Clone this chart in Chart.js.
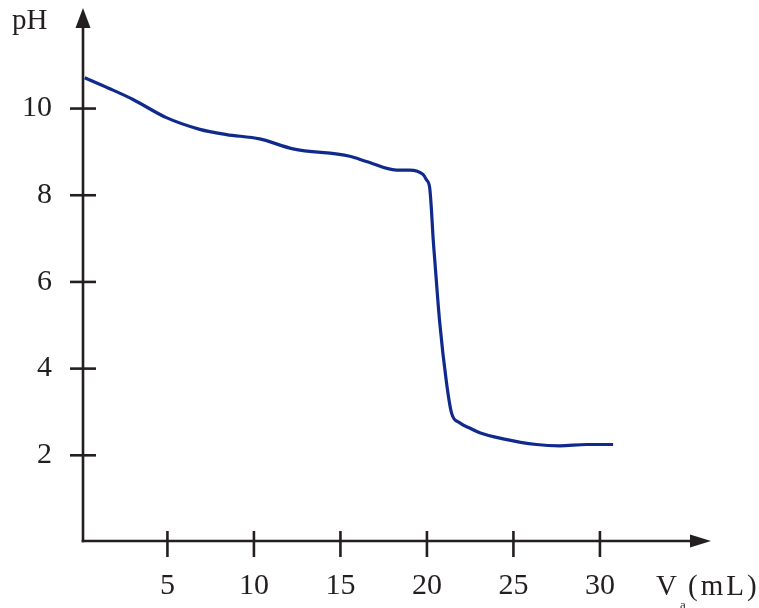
<!DOCTYPE html>
<html>
<head>
<meta charset="utf-8">
<script src="https://cdn.jsdelivr.net/npm/chart.js@4/dist/chart.umd.min.js"></script>
<style>
  html, body { margin: 0; padding: 0; background: #ffffff; }
  #wrap { width: 759px; height: 608px; }
</style>
</head>
<body>
<div id="wrap"><canvas id="c" width="759" height="608"></canvas></div>
<script>
// Titration curve: pH against added acid volume V_a (mL)
const volumeML = [0.22, 1.60, 3.01, 4.94, 6.87, 8.41, 10.33, 12.26, 15.54, 16.50, 18.24, 19.00, 19.77, 19.97, 20.16, 20.26, 20.35, 20.45, 20.74, 21.13, 21.42, 21.89, 22.47, 23.05, 24.40, 26.33, 27.68, 29.22, 30.76];
const pHValues = [10.71, 10.47, 10.21, 9.79, 9.52, 9.40, 9.30, 9.07, 8.90, 8.78, 8.58, 8.58, 8.48, 8.36, 8.17, 7.67, 7.05, 6.52, 5.06, 3.68, 2.98, 2.75, 2.63, 2.52, 2.38, 2.25, 2.22, 2.25, 2.25];
const xTickValues = [5, 10, 15, 20, 25, 30];
const yTickValues = [2, 4, 6, 8, 10];
const yAxisTitle = 'pH';
const xAxisTitle = 'V';
const xAxisSubscript = 'a';
const xAxisUnit = '(mL)';

const INK = '#231f20';
const CURVE = '#0f2a8c';
const SERIF = "'Liberation Serif', 'Times New Roman', serif";

const points = volumeML.map((v, i) => ({ x: v, y: pHValues[i] }));

// Axes with arrow heads, crossing tick marks and the axis titles
const arrowAxes = {
  id: 'arrowAxes',
  beforeDatasetsDraw(chart) {
    const { ctx, chartArea, scales } = chart;
    const xs = scales.x, ys = scales.y;
    const ox = chartArea.left;
    const oy = ys.getPixelForValue(0) - 1;
    ctx.save();
    ctx.strokeStyle = INK;
    ctx.fillStyle = INK;
    ctx.lineWidth = 2.6;
    ctx.lineCap = 'butt';

    // vertical axis
    ctx.beginPath();
    ctx.moveTo(ox, oy + 1.3);
    ctx.lineTo(ox, chartArea.top + 16);
    ctx.stroke();
    ctx.beginPath();
    ctx.moveTo(ox, chartArea.top);
    ctx.lineTo(ox - 7.5, chartArea.top + 20);
    ctx.lineTo(ox + 7.5, chartArea.top + 20);
    ctx.closePath();
    ctx.fill();

    // horizontal axis
    ctx.beginPath();
    ctx.moveTo(ox - 1.3, oy);
    ctx.lineTo(chartArea.right - 16, oy);
    ctx.stroke();
    ctx.beginPath();
    ctx.moveTo(chartArea.right, oy);
    ctx.lineTo(chartArea.right - 21, oy - 6.5);
    ctx.lineTo(chartArea.right - 21, oy + 6.5);
    ctx.closePath();
    ctx.fill();

    // tick marks
    yTickValues.forEach(v => {
      const py = ys.getPixelForValue(v);
      ctx.beginPath();
      ctx.moveTo(ox - 13, py);
      ctx.lineTo(ox + 13, py);
      ctx.stroke();
    });
    xTickValues.forEach(v => {
      const px = xs.getPixelForValue(v);
      ctx.beginPath();
      ctx.moveTo(px, oy - 10);
      ctx.lineTo(px, oy + 16);
      ctx.stroke();
    });

    // axis titles
    ctx.textBaseline = 'alphabetic';
    ctx.textAlign = 'left';
    ctx.font = '29px ' + SERIF;
    ctx.fillText(yAxisTitle, 12, 29);

    ctx.font = '29px ' + SERIF;
    ctx.fillText(xAxisTitle, 656, 595);
    ctx.font = '13px ' + SERIF;
    ctx.fillText(xAxisSubscript, 680, 609);
    ctx.font = '29px ' + SERIF;
    ctx.letterSpacing = '3px';
    ctx.fillText(xAxisUnit, 688, 595);
    ctx.restore();
  }
};

new Chart(document.getElementById('c'), {
  type: 'line',
  data: {
    datasets: [{
      data: points,
      borderColor: CURVE,
      borderWidth: 3.2,
      pointRadius: 0,
      fill: false,
      cubicInterpolationMode: 'monotone'
    }]
  },
  options: {
    responsive: false,
    animation: false,
    devicePixelRatio: 1,
    layout: { padding: { top: 8, right: 48, left: 0, bottom: 0 } },
    plugins: { legend: { display: false }, title: { display: false }, tooltip: { enabled: false } },
    scales: {
      x: {
        type: 'linear',
        min: 0.12,
        max: 36.42,
        afterBuildTicks: s => { s.ticks = xTickValues.map(v => ({ value: v })); },
        afterFit: s => { s.height = 66; s.paddingLeft = 0; s.paddingRight = 0; },
        grid: { display: false, drawTicks: false },
        border: { display: false },
        ticks: {
          color: INK,
          font: { family: SERIF, size: 30 },
          padding: 26,
          maxRotation: 0,
          autoSkip: false
        }
      },
      y: {
        type: 'linear',
        min: 0,
        max: 12.32,
        afterBuildTicks: s => { s.ticks = yTickValues.map(v => ({ value: v })); },
        afterFit: s => { s.width = 83; s.paddingTop = 0; s.paddingBottom = 0; },
        grid: { display: false, drawTicks: false },
        border: { display: false },
        ticks: {
          color: INK,
          font: { family: SERIF, size: 30 },
          padding: 31,
          autoSkip: false
        }
      }
    }
  },
  plugins: [arrowAxes]
});
</script>
</body>
</html>
